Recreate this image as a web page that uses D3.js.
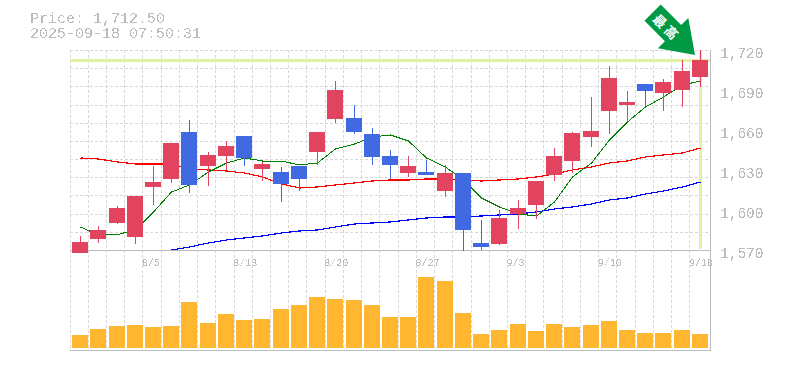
<!DOCTYPE html>
<html><head><meta charset="utf-8">
<script src="https://cdn.jsdelivr.net/npm/d3@7/dist/d3.min.js"></script>
<style>html,body{margin:0;padding:0;background:#fff}svg{display:block}
.mono{font-family:"Liberation Mono",monospace;fill:#bcbcbc}</style>
</head><body><svg id="c" width="785" height="370"></svg>
<script>
const priceLabel = "Price: 1,712.50";
const timeLabel = "2025-09-18 07:50:31";
const badgeLabel = "最高";
const lastPrice = 1712.5;
const highs = [1580.5,1588,1603,1610.5,1633,1650.25,1667.5,1643.5,1651.75,1655.5,1636,1632.25,1633,1658.5,1696.75,1678.75,1661.5,1645,1640.5,1637.5,1633.75,1627.75,1592.5,1600,1607.5,1621.75,1646.5,1658.5,1684.75,1708,1689.25,1694.5,1698.25,1712.5,1720];
const lows = [1567.75,1575.25,1589.5,1574.5,1603.75,1620.25,1612.75,1618,1630,1633,1621.75,1606,1614.25,1633.75,1665.25,1657,1633.75,1623.25,1624.75,1626.25,1609.75,1569.25,1570,1573.75,1585.75,1593.25,1621.75,1627.75,1647.25,1657,1666,1676.5,1674.25,1677.25,1692.25];
const opens = [1567.75,1578.25,1590.25,1579.75,1617.25,1623.25,1658.5,1633,1640.5,1655.5,1630.75,1628.5,1633,1643.5,1668.25,1669,1657,1640.5,1627.75,1628.5,1614.25,1627.75,1575.25,1574.5,1597,1603.75,1626.25,1636.75,1654.75,1674.25,1678.75,1694.5,1687.75,1690,1699.75];
const closes = [1576,1585,1601.5,1610.5,1621,1650.25,1618.75,1641.25,1648,1639,1634.5,1619.5,1623.25,1658.5,1690,1658.5,1639.75,1633.75,1633,1626.25,1627.75,1585,1572.25,1594,1601.5,1621.75,1640.5,1657.75,1659.25,1699,1681,1689.25,1696,1704.25,1712.5];
const maShort = [1587.25,1581.25,1581.6,1585,1598.5,1613.5,1618.75,1628.5,1635.25,1639,1636.75,1636.75,1633.75,1635.25,1645.75,1649.5,1654.75,1656.25,1651.75,1639,1632.25,1622.5,1609,1602.25,1597,1595.5,1606,1624.75,1635.25,1652.5,1666,1677.25,1684.75,1693.75,1696.75];
const maMid = [1639,1638.25,1636,1634.5,1634.5,1634.5,1630.75,1630,1629.25,1627.75,1624.75,1619.5,1616.5,1617.25,1618.75,1620.25,1621.75,1622.5,1622.5,1623.25,1623.25,1622.5,1621.75,1622.5,1623.25,1624.75,1627,1630,1632.25,1635.25,1636.75,1639.75,1641.25,1642.75,1646.5];
const maLong = [null,null,null,null,null,1570,1572.25,1575.25,1577.5,1579,1580.5,1582.75,1584.25,1585,1587.25,1589.5,1590.25,1591,1592.5,1594,1594.75,1594.75,1595.5,1596.25,1597,1598.5,1600.75,1602.25,1604.5,1607.5,1609,1612,1614.25,1617.25,1621];
const volumes = [13,19,22,23,21,22,46,25,34,28,29,39,43,51,49,48,43,31,31,71,67,35,14,18,24,17,24,21,23,27,18,15,15,18,14];
const priceTicks = [1570,1600,1630,1660,1690,1720];
const dateTickIndex = [4,9,14,19,24,29,34];
const dateTickLabels = ["8/5","8/13","8/20","8/27","9/3","9/10","9/18"];

const svg = d3.select("#c");
const RED="#e2445f", BLUE="#4169e1", GRID="#d8d8d8", AXIS="#bcbcbc", HL="#e0f3a4";

const defs = svg.append("defs");
const f = defs.append("filter").attr("id","alias").attr("x","-5%").attr("y","-20%").attr("width","110%").attr("height","140%");
f.append("feComponentTransfer").append("feFuncA").attr("type","discrete").attr("tableValues","0 1");

const idx = d3.range(highs.length);
const x = d3.scaleBand().domain(idx).range([71,709]);
const y = d3.scaleLinear().domain([1570,1720]).range([250,50]);
const v = d3.scaleLinear().domain([0,100]).range([348,248]);
const left = i => Math.round(x(i)+x.step()/2-8);
const mid = i => left(i)+8;

// grid
const grid = svg.append("g").attr("stroke",GRID).attr("stroke-dasharray","3,2").attr("shape-rendering","crispEdges");
grid.selectAll("line.v").data(idx).join("line").attr("class","v")
  .attr("x1",i=>Math.floor(x(i))-0.5).attr("x2",i=>Math.floor(x(i))-0.5).attr("y1",50).attr("y2",350);
const hVals = d3.range(0,11).map(k=>1720-k*150/11);
grid.selectAll("line.h").data(hVals).join("line").attr("class","h")
  .attr("x1",70).attr("x2",710).attr("y1",d=>Math.round(y(d))+0.5).attr("y2",d=>Math.round(y(d))+0.5);

// last price highlight
const hl = svg.append("g").attr("stroke",HL).attr("stroke-width",3).attr("shape-rendering","crispEdges");
hl.append("line").attr("x1",70).attr("x2",710).attr("y1",y(lastPrice)+0.5).attr("y2",y(lastPrice)+0.5);
hl.append("line").attr("x1",mid(34)+0.5).attr("x2",mid(34)+0.5).attr("y1",50).attr("y2",249);

// frame
const fr = svg.append("g").attr("stroke",AXIS).attr("shape-rendering","crispEdges");
fr.append("line").attr("x1",70).attr("x2",710).attr("y1",250.5).attr("y2",250.5);
fr.append("line").attr("x1",70).attr("x2",710).attr("y1",350.5).attr("y2",350.5);
fr.append("line").attr("x1",710.5).attr("x2",710.5).attr("y1",50).attr("y2",351);

// moving averages
const line = d3.line().defined(d=>d!=null).x((d,i)=>mid(i)+0.5).y(d=>y(d));
[[maLong,"#0000ff",1.2],[maMid,"#ff0000",1.2],[maShort,"#008000",1]].forEach(([s,c,w])=>{
  svg.append("path").datum(s).attr("d",line).attr("fill","none").attr("stroke",c).attr("stroke-width",w).attr("shape-rendering","crispEdges");
});

// candles
const c = svg.append("g").selectAll("g").data(idx).join("g").attr("shape-rendering","crispEdges");
const col = i => closes[i]>=opens[i]?RED:BLUE;
c.append("line").attr("x1",i=>mid(i)+0.5).attr("x2",i=>mid(i)+0.5)
  .attr("y1",i=>y(highs[i])).attr("y2",i=>y(lows[i])).attr("stroke",col);
c.append("rect").attr("x",left).attr("width",16)
  .attr("y",i=>y(Math.max(opens[i],closes[i])))
  .attr("height",i=>Math.max(1,Math.abs(y(opens[i])-y(closes[i])))).attr("fill",col);

// volume
svg.append("g").attr("shape-rendering","crispEdges").selectAll("rect").data(idx).join("rect")
  .attr("x",left).attr("width",16).attr("y",i=>v(volumes[i])).attr("height",i=>v(0)-v(volumes[i])).attr("fill","#ffb732");

// axes
const yAxis = svg.append("g").attr("transform","translate(710,0)")
  .call(d3.axisRight(y).tickValues(priceTicks).tickSize(0).tickPadding(10).tickFormat(d3.format(",")));
yAxis.select(".domain").remove();
yAxis.selectAll("text").attr("class","mono").attr("dy",null).attr("y",7)
  .style("font-size","14.5px").attr("filter","url(#alias)");

const xAxis = svg.append("g").attr("transform","translate(0,266)")
  .call(d3.axisBottom(x).tickValues(dateTickIndex).tickSize(0).tickPadding(0)
    .tickFormat(i=>dateTickLabels[dateTickIndex.indexOf(i)]));
xAxis.select(".domain").remove();
xAxis.selectAll("text").attr("class","mono").attr("dy",null).attr("y",0).attr("x",-11)
  .attr("text-anchor","start").style("font-size","10px").attr("filter","url(#alias)");

// header
const head = svg.append("text").attr("class","mono").style("font-size","15px").attr("filter","url(#alias)");
head.append("tspan").attr("x",30).attr("y",23).text(priceLabel);
head.append("tspan").attr("x",30).attr("y",38).text(timeLabel);

// high badge
const badge = svg.append("g").attr("transform","translate(695,55) rotate(-45)");
badge.append("path").attr("fill","#009944").attr("d",d3.line()([[0,0],[-21.5,-31],[-11.5,-31],[-11.5,-60],[11.5,-60],[11.5,-31],[21.5,-31]])+"Z");
svg.append("text").attr("transform","translate(666.5,28) rotate(45)").attr("text-anchor","middle").attr("dy","0.36em")
  .attr("fill","#fff").style("font-family","'Noto Sans CJK JP'").style("font-weight","700").style("font-size","13px").style("letter-spacing","3px").text(badgeLabel);
</script>
</body></html>
